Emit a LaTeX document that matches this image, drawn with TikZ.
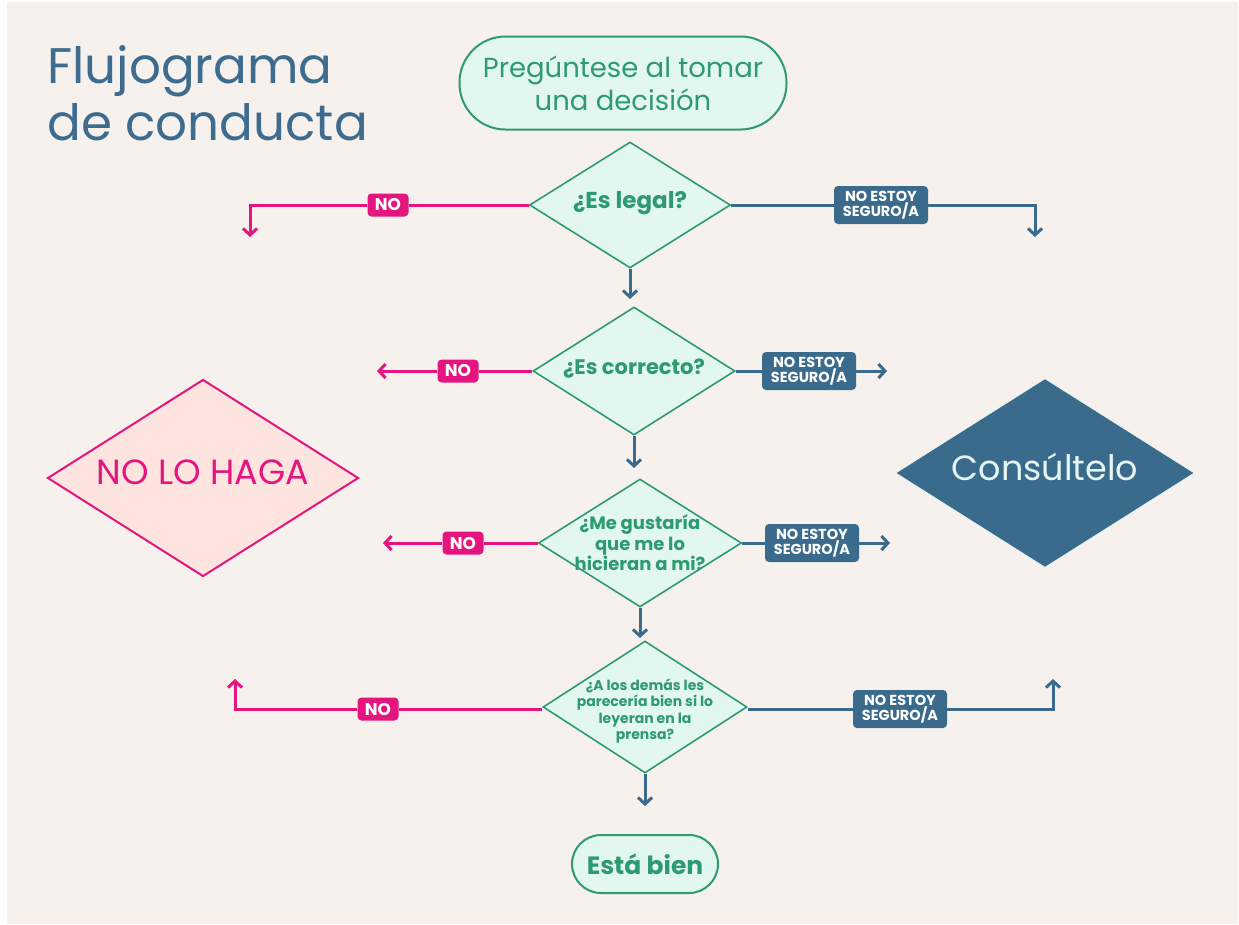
\documentclass[tikz,border=0pt]{standalone}
\usepackage{fontspec}
\setmainfont{Poppins}
\usetikzlibrary{shapes.geometric,arrows.meta}
\definecolor{bg}{HTML}{F6F1ED}
\definecolor{grn}{HTML}{2E9A6F}
\definecolor{mint}{HTML}{E3F7F1}
\definecolor{mag}{HTML}{E5157F}
\definecolor{blu}{HTML}{3A6A8C}
\definecolor{pinkf}{HTML}{FDE4DE}
\definecolor{pale}{HTML}{E6F7F3}
\definecolor{ttl}{HTML}{3D6C8E}
\newcommand{\fsz}[2]{\fontsize{#1}{#2}\selectfont}
\begin{document}
\begin{tikzpicture}[x=1pt,y=-1pt,
  q/.style={diamond, draw=grn, fill=mint, line width=1.6pt, inner sep=0pt},
  dtext/.style={text=grn, align=center, inner sep=0pt},
  term/.style={rectangle, draw=grn, fill=mint, line width=2pt, text=grn, align=center, inner sep=0pt},
  nolab/.style={fill=mag, text=white, font=\bfseries\fsz{17}{17}, rounded corners=4pt, inner sep=0pt, minimum width=41pt, minimum height=23pt},
  nslab/.style={fill=blu, text=white, font=\bfseries\fsz{14.5}{15.5}, rounded corners=4pt, inner sep=0pt, minimum width=94pt, minimum height=38pt, align=center},
  magline/.style={draw=mag, line width=3pt},
  bluline/.style={draw=blu, line width=3pt},
  tip/.style={-{Straight Barb[length=6.5pt,width=14pt]}}
]
\fill[white] (0,0) rectangle (1239,924);
\fill[bg] (7,2) rectangle (1238,924);
\useasboundingbox (0,0) rectangle (1239,924);

% title
\node[anchor=base west, text=ttl, font=\fsz{50}{57}, inner sep=0pt] (title1) at (47,83) {Flujograma};
\node[anchor=base west, text=ttl, font=\fsz{50}{57}, inner sep=0pt] (title2) at (47,140) {de conducta};

% start
\node[term, rounded corners=46pt, minimum width=327pt, minimum height=93pt, font=\fsz{27.5}{33}] (start) at (623,83) {Pregúntese al tomar\\una decisión};

% diamonds
\node[q, minimum width=201pt, minimum height=126pt] (d1) at (630,205) {};
\node[dtext, font=\bfseries\fsz{23}{26}] (t1) at (630,203) {¿Es legal?};
\node[q, minimum width=202pt, minimum height=128pt] (d2) at (634,371) {};
\node[dtext, font=\bfseries\fsz{21}{24}] (t2) at (634,369) {¿Es correcto?};
\node[q, minimum width=203pt, minimum height=128pt] (d3) at (640,543) {};
\node[dtext, font=\bfseries\fsz{18}{20.5}] (t3) at (d3) {¿Me gustaría\\que me lo\\hicieran a mi?};
\node[q, minimum width=204pt, minimum height=132pt] (d4) at (645,707) {};
\node[dtext, font=\bfseries\fsz{14}{16.5}] (t4) at (645,711) {¿A los demás les\\parecería bien si lo\\leyeran en la\\prensa?};

% end
\node[term, rounded corners=29pt, minimum width=146pt, minimum height=58pt, font=\bfseries\fsz{25}{25}] (fin) at (645,864) {Está bien};

% big outcome diamonds
\node[diamond, draw=mag, fill=pinkf, line width=2pt, inner sep=0pt, minimum width=311pt, minimum height=197pt] (nolo) at (203,478) {};
\node[text=mag, font=\fsz{35}{35}, inner sep=0pt] (nolot) at (203,472) {NO LO HAGA};
\node[diamond, draw=pale, fill=blu, line width=0.8pt, inner sep=0pt, minimum width=299pt, minimum height=189pt] (cons) at (1045,473) {};
\node[text=pale, font=\fsz{35}{35}, inner sep=0pt] (const) at (1045,467) {Consúltelo};

% coordinates
\coordinate (l1a) at (250,205); \coordinate (l1b) at (250,237);
\coordinate (r1a) at (1035,205); \coordinate (r1b) at (1035,237);
\coordinate (l2) at (377,371); \coordinate (r2) at (887,371);
\coordinate (l3) at (383,543); \coordinate (r3) at (890,543);
\coordinate (l4a) at (235,709); \coordinate (l4b) at (235,679);
\coordinate (r4a) at (1053,709); \coordinate (r4b) at (1053,679);
\coordinate (a1) at (630,299); \coordinate (a2) at (634,468);
\coordinate (a3) at (640,638); \coordinate (a4) at (645,806);

% labels on connectors
\node[nolab] (no1) at (388,205) {NO};
\node[nolab] (no2) at (458,371) {NO};
\node[nolab] (no3) at (463,543) {NO};
\node[nolab] (no4) at (378,709) {NO};
\node[nslab] (ns1) at (881,205) {NO ESTOY\\SEGURO/A};
\node[nslab] (ns2) at (809,371) {NO ESTOY\\SEGURO/A};
\node[nslab] (ns3) at (812,543) {NO ESTOY\\SEGURO/A};
\node[nslab] (ns4) at (900,709) {NO ESTOY\\SEGURO/A};

% connectors: NO side
\draw[magline] (d1.west) -- (no1.east);
\draw[magline, tip] (no1.west) -- (l1a) -- (l1b);
\draw[magline] (d2.west) -- (no2.east);
\draw[magline, tip] (no2.west) -- (l2);
\draw[magline] (d3.west) -- (no3.east);
\draw[magline, tip] (no3.west) -- (l3);
\draw[magline] (d4.west |- no4) -- (no4.east);
\draw[magline, tip] (no4.west) -- (l4a) -- (l4b);

% connectors: unsure side
\draw[bluline] (d1.east) -- (ns1.west);
\draw[bluline, tip] (ns1.east) -- (r1a) -- (r1b);
\draw[bluline] (d2.east) -- (ns2.west);
\draw[bluline, tip] (ns2.east) -- (r2);
\draw[bluline] (d3.east) -- (ns3.west);
\draw[bluline, tip] (ns3.east) -- (r3);
\draw[bluline] (d4.east |- ns4) -- (ns4.west);
\draw[bluline, tip] (ns4.east) -- (r4a) -- (r4b);

% down arrows
\draw[bluline, tip] (d1.south) -- (a1);
\draw[bluline, tip] (d2.south) -- (a2);
\draw[bluline, tip] (d3.south) -- (a3);
\draw[bluline, tip] (d4.south) -- (a4);
\end{tikzpicture}
\end{document}
